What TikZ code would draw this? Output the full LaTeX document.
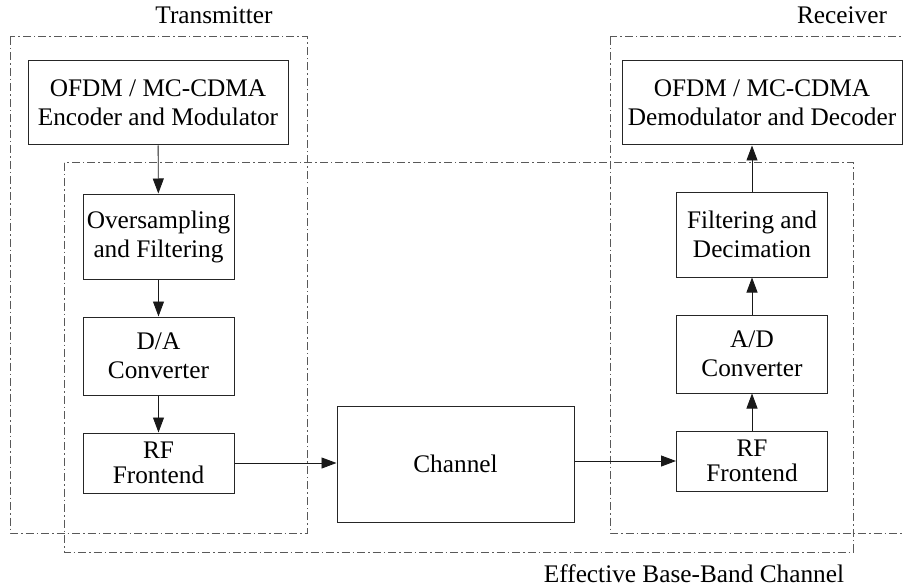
\documentclass[tikz,border=0pt]{standalone}
\usepackage{fontspec}
\setmainfont{Liberation Serif}
\usetikzlibrary{arrows.meta, positioning}
\tikzset{
  every node/.style={font=\fontsize{25.3}{29}\selectfont},
  blk/.style={draw=black!85, line width=1pt, align=center, inner sep=2pt, minimum width=151pt},
  dashbox/.style={draw=black!65, line width=1pt, dash pattern=on 8pt off 3pt on 1.5pt off 3pt},
  sig/.style={-{Triangle[length=15pt,width=11pt]}, line width=0.9pt, black!90}
}

\begin{document}
\begin{tikzpicture}[x=1pt, y=-1pt, node distance=37pt]
        \useasboundingbox (0,0) rectangle (904,588);
        % transmitter chain
        \node[blk, minimum width=260pt, minimum height=84pt] (enc) at (158,103) {OFDM / MC-CDMA\\Encoder and Modulator};
        \node[blk, minimum height=85pt] (ovs) at (158.5,236.5) {Oversampling\\and Filtering};
        \node[blk, minimum height=78pt, below=of ovs] (dac) {D/A\\Converter};
        \node[blk, minimum height=60pt, below=of dac, font=\fontsize{25.3}{25}\selectfont] (rftx) {RF\\Frontend};
        % channel
        \node[blk, minimum width=237pt, minimum height=116pt] (chan) at (455.5,464) {Channel};
        % receiver chain
        \node[blk, minimum height=60pt, font=\fontsize{25.3}{25}\selectfont] (rfrx) at (752,461) {RF\\Frontend};
        \node[blk, minimum height=78pt, above=of rfrx] (adc) {A/D\\Converter};
        \node[blk, minimum height=85pt, above=of adc] (dec) {Filtering and\\Decimation};
        \node[blk, minimum width=280pt, minimum height=84pt] (dem) at (762,103) {OFDM / MC-CDMA\\Demodulator and Decoder};
        % groups
        \draw[dashbox] (10,37) rectangle (307,533);
        \draw[dashbox] (610,37) rectangle (908,533);
        \draw[dashbox] (64,163) rectangle (853,552);
        \node[anchor=base] (txlbl) at (214,24) {Transmitter};
        \node[anchor=base] (rxlbl) at (842,24) {Receiver};
        \node[anchor=base] (eblbl) at (694,582) {Effective Base-Band Channel};
        % signal flow
        \draw[sig] (enc) -- (ovs);
        \draw[sig] (ovs) -- (dac);
        \draw[sig] (dac) -- (rftx);
        \draw[sig] (rftx) -- (rftx -| chan.west);
        \draw[sig] (chan.east |- rfrx) -- (rfrx);
        \draw[sig] (rfrx) -- (adc);
        \draw[sig] (adc) -- (dec);
        \draw[sig] (dec) -- (dec |- dem.south);
      \end{tikzpicture}
\end{document}
